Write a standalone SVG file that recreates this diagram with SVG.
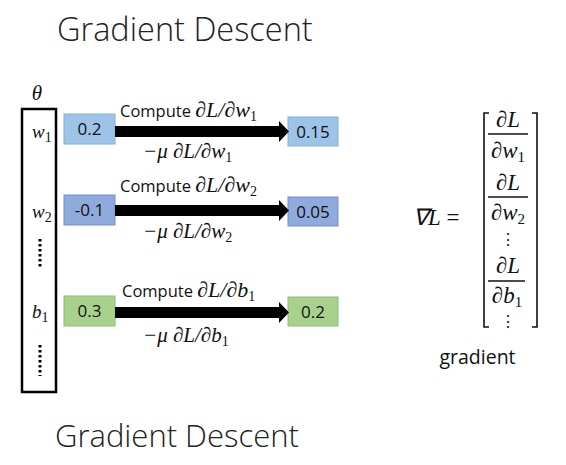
<svg xmlns="http://www.w3.org/2000/svg" width="566" height="465" viewBox="0 0 566 465">
<style>
.title{font-family:"Open Sans","Noto Sans",sans-serif;font-weight:300;font-size:32.5px;fill:#222}
.lbl{font-family:"Open Sans","Noto Sans",sans-serif;font-size:16.5px;fill:#111}
.m{font-family:"Liberation Serif",serif;font-style:italic;font-size:21px;fill:#111}
.cm{font-size:22px}
.sub{font-style:normal;font-size:14px}
.val{font-family:"Open Sans","Noto Sans",sans-serif;font-size:17px;fill:#111;text-anchor:middle}
.b1{fill:#9DC3E6;stroke:#86AED6;stroke-width:1}
.b2{fill:#8FAADC;stroke:#7391C6;stroke-width:1}
.g{fill:#A9D18E;stroke:#8EBC72;stroke-width:1}
.arrow{fill:#000}
.dots{stroke:#000;stroke-width:3;stroke-dasharray:2.5 2.5;fill:none}
.frac{stroke:#111;stroke-width:1.5}
.mx{font-size:23px}
.mxs{font-style:normal;font-size:15px}
</style>
<text class="title" x="57" y="41">Gradient Descent</text>
<text class="title" x="55" y="447" style="font-size:31px">Gradient Descent</text>

<g id="theta-column">
<text class="m" x="37" y="100" text-anchor="middle" style="font-size:21px">θ</text>
<rect x="22" y="109" width="34" height="283" fill="none" stroke="#000" stroke-width="2.5"/>
<text class="m" x="32" y="138" style="font-size:19px">w<tspan class="sub" dy="4">1</tspan></text>
<text class="m" x="32" y="218" style="font-size:19px">w<tspan class="sub" dy="4">2</tspan></text>
<line class="dots" x1="40" y1="239" x2="40" y2="269"/>
<text class="m" x="32" y="318" style="font-size:19px">b<tspan class="sub" dy="4">1</tspan></text>
<line class="dots" x1="40" y1="345" x2="40" y2="376"/>
</g>

<g id="w1-old"><rect class="b1" x="64" y="114" width="51" height="30"/><text class="val" x="89.5" y="135">0.2</text></g>
<g id="w2-old"><rect class="b2" x="64" y="195" width="51" height="30"/><text class="val" x="89.5" y="216">-0.1</text></g>
<g id="b1-old"><rect class="g" x="64" y="296" width="51" height="30"/><text class="val" x="89.5" y="317">0.3</text></g>

<g id="w1-new"><rect class="b1" x="288" y="117" width="50" height="29"/><text class="val" x="313" y="137.5">0.15</text></g>
<g id="w2-new"><rect class="b2" x="288" y="197" width="50" height="29"/><text class="val" x="313" y="217.5">0.05</text></g>
<g id="b1-new"><rect class="g" x="288" y="297" width="50" height="29"/><text class="val" x="313" y="317.5">0.2</text></g>

<g id="connectors">
<path class="arrow" d="M115 126 H279 V121 L289 131.5 L279 142 V137 H115 Z"/>
<path class="arrow" d="M115 205 H279 V200 L289 210.5 L279 221 V216 H115 Z"/>
<path class="arrow" d="M115 307 H279 V302 L289 312.5 L279 323 V318 H115 Z"/>
</g>

<g id="labels">
<text x="120" y="117"><tspan class="lbl">Compute </tspan><tspan class="m cm">∂L/∂w</tspan><tspan class="m sub" dy="4">1</tspan></text>
<text class="m" x="143" y="158">−μ ∂L/∂w<tspan class="sub" dy="4">1</tspan></text>
<text x="120" y="192"><tspan class="lbl">Compute </tspan><tspan class="m cm">∂L/∂w</tspan><tspan class="m sub" dy="4">2</tspan></text>
<text class="m" x="143" y="238">−μ ∂L/∂w<tspan class="sub" dy="4">2</tspan></text>
<text x="122" y="297"><tspan class="lbl">Compute </tspan><tspan class="m cm">∂L/∂b</tspan><tspan class="m sub" dy="4">1</tspan></text>
<text class="m" x="143" y="342">−μ ∂L/∂b<tspan class="sub" dy="4">1</tspan></text>
</g>

<g id="gradient-vector">
<text class="m" x="413" y="225" style="font-size:23px">∇L<tspan style="font-style:normal"> =</tspan></text>
<path d="M489 113 H484 V327 H489 M532 113 H537 V327 H532" fill="none" stroke="#111" stroke-width="1.6"/>
<text class="m mx" x="508" y="127" text-anchor="middle">∂L</text>
<line class="frac" x1="488" y1="134" x2="528" y2="134"/>
<text class="m mx" x="508" y="158" text-anchor="middle">∂w<tspan class="mxs" dy="4">1</tspan></text>
<text class="m mx" x="508" y="190" text-anchor="middle">∂L</text>
<line class="frac" x1="488" y1="197" x2="528" y2="197"/>
<text class="m mx" x="508" y="220" text-anchor="middle">∂w<tspan class="mxs" dy="4">2</tspan></text>
<text class="m" x="508" y="245" text-anchor="middle" style="font-style:normal;font-size:16px">⋮</text>
<text class="m mx" x="508" y="273" text-anchor="middle">∂L</text>
<line class="frac" x1="488" y1="281" x2="525" y2="281"/>
<text class="m mx" x="507" y="303" text-anchor="middle">∂b<tspan class="mxs" dy="4">1</tspan></text>
<text class="m" x="508" y="327" text-anchor="middle" style="font-style:normal;font-size:16px">⋮</text>
<text class="lbl" x="477.5" y="364" text-anchor="middle" style="font-size:19.5px">gradient</text>
</g>
</svg>
